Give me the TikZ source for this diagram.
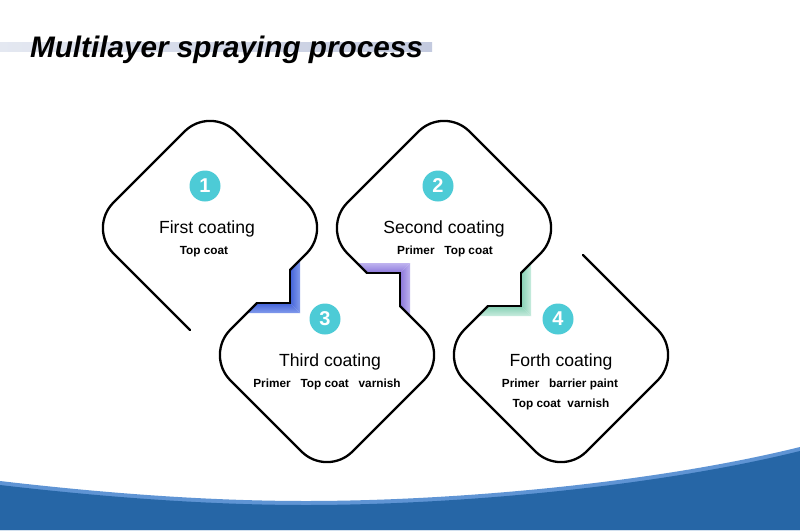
\documentclass[tikz,border=0pt]{standalone}
\usepackage{fontspec}
\setmainfont{Liberation Sans}
\definecolor{tq}{HTML}{4DCBD6}
\definecolor{wavedark}{HTML}{2666A6}
\definecolor{wavelight}{HTML}{5F94D4}
\definecolor{bluedk}{HTML}{4262D8}
\definecolor{bluelt}{HTML}{829BEC}
\definecolor{purdk}{HTML}{8A76DA}
\definecolor{purlt}{HTML}{BFB3EF}
\definecolor{grndk}{HTML}{84CFB3}
\definecolor{grnlt}{HTML}{C8ECDE}
\definecolor{barL}{HTML}{E4E8F1}
\definecolor{barR}{HTML}{C3CADF}
\begin{document}
\begin{tikzpicture}[x=1pt,y=-1pt,
  outline/.style={line width=2.3pt, line cap=round, line join=round},
  notch/.style={line width=2.3pt, line cap=round, line join=miter},
  rnd/.style={rounded corners=36pt},
  numc/.style={circle, fill=tq, minimum size=31pt, inner sep=0pt, text=white,
    font=\fontsize{20}{20}\selectfont\bfseries},
  head/.style={font=\fontsize{17.6}{20}\selectfont, anchor=base, inner sep=0pt},
  sub/.style={font=\fontsize{11.8}{14}\selectfont\bfseries, anchor=base, inner sep=0pt},
]
\useasboundingbox (0,0) rectangle (800,530);
\fill[white] (0,0) rectangle (800,530);

% title bar and title
\shade[left color=barL, right color=barR] (0,42) rectangle (432,51);
\node[anchor=base, inner sep=0pt, font=\fontsize{29.7}{32}\selectfont\bfseries\itshape] (title) at (226.5,57) {Multilayer spraying process};

% bottom wave
\fill[wavelight] (0,481) .. controls (120,495) and (220,501) .. (306,501)
  .. controls (450,501) and (650,484) .. (800,447) -- (800,530) -- (0,530) -- cycle;
\fill[wavedark] (0,485) .. controls (120,499) and (220,505) .. (306,505)
  .. controls (450,505) and (650,488) .. (800,451) -- (800,530) -- (0,530) -- cycle;

% key points of the outline
\coordinate (f1) at (190,330);
\coordinate (d1L) at (88,228);  \coordinate (d1T) at (210,106); \coordinate (d1R) at (332,228);
\coordinate (n1a) at (290,270); \coordinate (n1b) at (290,303); \coordinate (n1c) at (257,303);
\coordinate (d3L) at (205,355); \coordinate (d3B) at (327,477); \coordinate (d3R) at (449,355);
\coordinate (n2a) at (400,306); \coordinate (n2b) at (400,273); \coordinate (n2c) at (367,273);
\coordinate (d2L) at (322,228); \coordinate (d2T) at (444,106); \coordinate (d2R) at (566,228);
\coordinate (n3a) at (521,273); \coordinate (n3b) at (521,306); \coordinate (n3c) at (488,306);
\coordinate (d4L) at (439,355); \coordinate (d4B) at (561,477); \coordinate (d4R) at (683,355);
\coordinate (f4) at (583,255);

% coloured bands
\shade[left color=bluedk, right color=bluelt] (n1a) -- (300,260) -- (300,313) -- (n1b) -- cycle;
\shade[top color=bluedk, bottom color=bluelt] (n1b) -- (300,313) -- (247,313) -- (n1c) -- cycle;
\shade[left color=purdk, right color=purlt] (n2a) -- (410,316) -- (410,263) -- (n2b) -- cycle;
\shade[top color=purlt, bottom color=purdk] (n2b) -- (410,263) -- (357,263) -- (n2c) -- cycle;
\shade[left color=grndk, right color=grnlt] (n3a) -- (531,263) -- (531,316) -- (n3b) -- cycle;
\shade[top color=grndk, bottom color=grnlt] (n3b) -- (531,316) -- (478,316) -- (n3c) -- cycle;

% outline
\draw[outline,rnd] (f1) -- (d1L) -- (d1T) -- (d1R) -- (n1a);
\draw[notch] (n1a) -- (n1b) -- (n1c);
\draw[outline,rnd] (n1c) -- (d3L) -- (d3B) -- (d3R) -- (n2a);
\draw[notch] (n2a) -- (n2b) -- (n2c);
\draw[outline,rnd] (n2c) -- (d2L) -- (d2T) -- (d2R) -- (n3a);
\draw[notch] (n3a) -- (n3b) -- (n3c);
\draw[outline,rnd] (n3c) -- (d4L) -- (d4B) -- (d4R) -- (f4);

% numbers
\node[numc] (c1) at (205,186) {1};
\node[numc] (c2) at (438,186) {2};
\node[numc] (c3) at (325,319) {3};
\node[numc] (c4) at (558,319) {4};

% texts
\node[head] (h1) at (207,233) {First coating};
\node[sub]  (s1) at (204,254) {Top coat};
\node[head] (h2) at (444,233) {Second coating};
\node[sub]  (s2) at (445,254) {Primer~~~Top coat};
\node[head] (h3) at (330,366) {Third coating};
\node[sub]  (s3) at (327,387) {Primer~~~Top coat~~~varnish};
\node[head] (h4) at (561,366) {Forth coating};
\node[sub]  (s4) at (560,387) {Primer~~~barrier paint};
\node[sub]  (s5) at (561,407) {Top coat~~varnish};
\end{tikzpicture}
\end{document}
